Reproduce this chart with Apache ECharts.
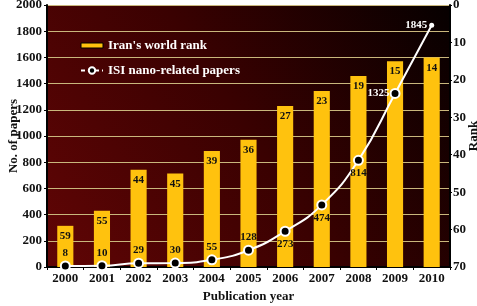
<!DOCTYPE html>
<html>
<head>
<meta charset="utf-8">
<script src="https://cdn.jsdelivr.net/npm/echarts@6/dist/echarts.min.js"></script>
<style>
html,body{margin:0;padding:0;background:#fff;}
#chart{width:477px;height:306px;}
</style>
</head>
<body>
<div id="chart"></div>
<script>
//数据
var years = ['2000','2001','2002','2003','2004','2005','2006','2007','2008','2009','2010'];
var rankData = [59, 55, 44, 45, 39, 36, 27, 23, 19, 15, 14];		//Iran's world rank
var paperData = [8, 10, 29, 30, 55, 128, 273, 474, 814, 1325, 1845];		//ISI papers
var paperLabelPos = ['top','top','top','top','top','top','bottom','bottom','bottom','left','left'];
var rankMax = 70;

var serif = '"Liberation Serif", "DejaVu Serif", serif';

//柱子从底部(70)画到名次
var rankBase = rankData.map(function (v) { return v; });
var rankBar = rankData.map(function (v) { return rankMax - v; });

var paperPoints = paperData.map(function (v, i) {
	var last = i == paperData.length - 1;
	var white = i >= paperData.length - 2;
	return {
		value: v,
		symbolSize: last ? 5 : 9,
		itemStyle: last ? {color: '#fff', borderColor: '#fff', borderWidth: 0} : undefined,
		label: {
			position: paperLabelPos[i],
			distance: i == 9 ? 0 : 2,
			color: white ? '#fff' : '#111'
		}
	};
});

function plain(v) { return String(v); }

var container = echarts.init(document.getElementById('chart'));
var option = {
	animation: false,
	grid: {
		left: 47, right: 27, top: 5, bottom: 39,
		containLabel: false,
		outerBoundsMode: 'none',
		show: true,
		borderWidth: 0,
		backgroundColor: new echarts.graphic.LinearGradient(0, 1, 1, 0, [
			{offset: 0, color: '#610505'},
			{offset: 0.5, color: '#3a0101'},
			{offset: 1, color: '#060000'}
		])
	},
	legend: {
		orient: 'vertical',
		left: 75, top: 34,
		itemGap: 12,
		itemWidth: 22, itemHeight: 8,
		textStyle: {color: '#fff', fontFamily: serif, fontWeight: 'bold', fontSize: 13},
		lineStyle: {type: 'dashed', width: 2},
		data: [
			{name: "Iran's world rank", icon: 'path://M0,3 h22 v5 h-22 z', itemStyle: {color: '#ffc20e', borderColor: '#000', borderWidth: 1}},
			{name: 'ISI nano-related papers', lineStyle: {type: [4, 3], width: 2, color: '#fff'}}
		]
	},
	xAxis: {
		type: 'category',
		data: years,
		name: 'Publication year',
		nameLocation: 'middle',
		nameGap: 23,
		nameMoveOverlap: false,
		nameTextStyle: {color: '#111', fontFamily: serif, fontWeight: 'bold', fontSize: 13},
		axisLine: {lineStyle: {color: '#000', width: 2}},
		axisTick: {show: true, length: 3, lineStyle: {color: '#000'}},
		axisLabel: {interval: 0, color: '#111', fontFamily: serif, fontWeight: 'bold', fontSize: 13, margin: 5}
	},
	yAxis: [{
		type: 'value',
		min: 0, max: 2000, interval: 200,
		name: 'No. of papers',
		nameLocation: 'middle',
		nameRotate: 90,
		nameGap: 27,
		nameMoveOverlap: false,
		nameTextStyle: {color: '#111', fontFamily: serif, fontWeight: 'bold', fontSize: 13},
		axisLine: {show: true, lineStyle: {color: '#000', width: 2}},
		axisTick: {show: true, length: 3, lineStyle: {color: '#000'}},
		axisLabel: {formatter: plain, color: '#111', fontFamily: serif, fontWeight: 'bold', fontSize: 13, margin: 5},
		splitLine: {show: true, lineStyle: {color: '#c9b77c', width: 1}}
	}, {
		type: 'value',
		min: 0, max: rankMax, interval: 10,
		inverse: true,
		name: 'Rank',
		nameLocation: 'middle',
		nameRotate: 90,
		nameGap: 17,
		nameMoveOverlap: false,
		nameTextStyle: {color: '#111', fontFamily: serif, fontWeight: 'bold', fontSize: 13},
		axisLine: {show: true, lineStyle: {color: '#000', width: 2}},
		axisTick: {show: true, length: 2, lineStyle: {color: '#000'}},
		axisLabel: {color: '#111', fontFamily: serif, fontWeight: 'bold', fontSize: 13, margin: 3},
		splitLine: {show: false}
	}],
	series: [{
		name: 'base',
		type: 'bar',
		yAxisIndex: 1,
		stack: 'rank',
		barWidth: '44%',
		data: rankBase,
		itemStyle: {color: 'rgba(0,0,0,0)'},
		silent: true
	}, {
		name: "Iran's world rank",
		type: 'bar',
		yAxisIndex: 1,
		stack: 'rank',
		barWidth: '44%',
		data: rankBar,
		itemStyle: {color: '#ffc20e'},
		label: {
			show: true,
			position: 'insideTop',
			distance: 5,
			color: '#111',
			fontFamily: serif,
			fontWeight: 'bold',
			fontSize: 11,
			formatter: function (p) { return rankData[p.dataIndex]; }
		}
	}, {
		name: 'ISI nano-related papers',
		type: 'line',
		yAxisIndex: 0,
		smooth: true,
		symbol: 'circle',
		symbolSize: 9,
		data: paperPoints,
		lineStyle: {color: '#fff', width: 2},
		itemStyle: {color: '#000', borderColor: '#fff', borderWidth: 2},
		label: {
			show: true,
			fontFamily: serif,
			fontWeight: 'bold',
			fontSize: 11
		},
		z: 5
	}]
};
container.setOption(option);
</script>
</body>
</html>
